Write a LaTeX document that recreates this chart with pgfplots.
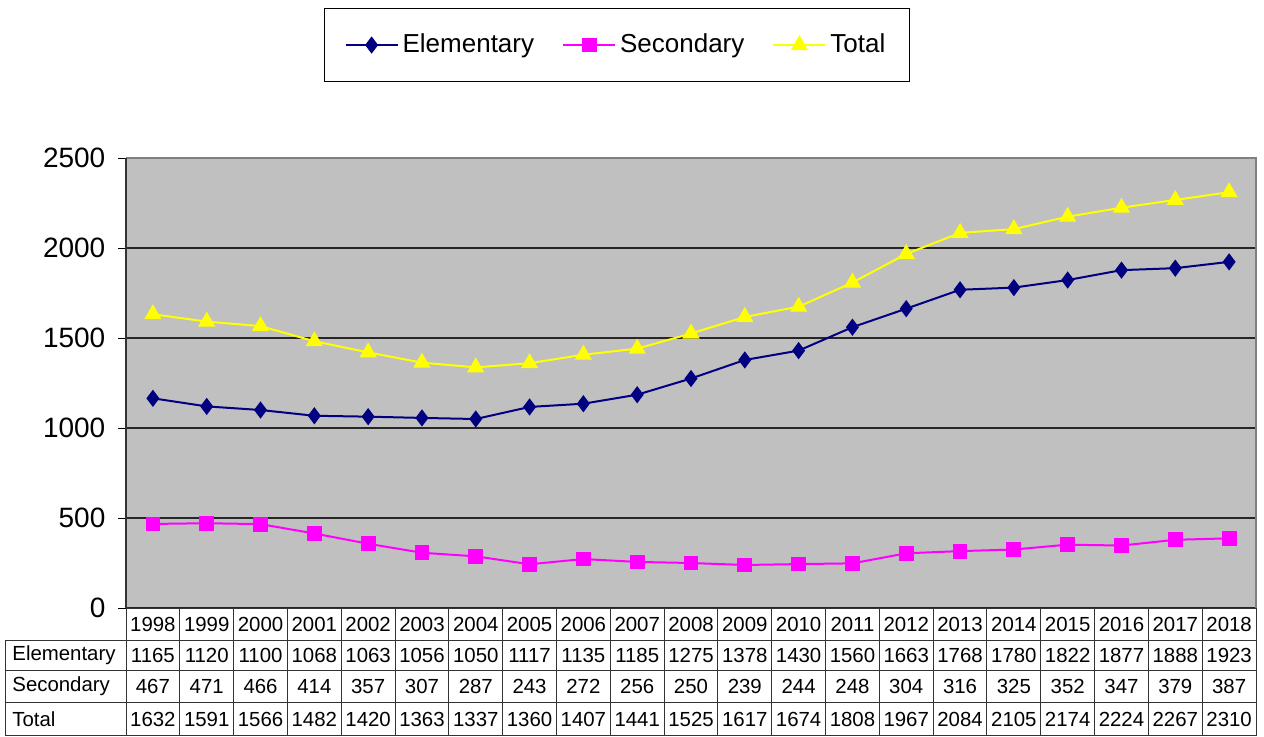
\documentclass[border=0pt]{standalone}
\usepackage{pgfplots}
\pgfplotsset{compat=1.18}
\usepackage{fontspec}
\setmainfont{Liberation Sans}
\definecolor{navy}{HTML}{000080}
\definecolor{mag}{HTML}{FF00FF}
\definecolor{yel}{HTML}{FFFF00}
\definecolor{plotbg}{HTML}{C0C0C0}
\newcommand{\tabfont}{\fontsize{10.2}{12}\selectfont}
\begin{document}
\begin{tikzpicture}[x=1pt,y=1pt]
\useasboundingbox (-63,-64) rectangle (569,304);
\begin{axis}[
  at={(0,0)}, anchor=south west,
  scale only axis, width=565pt, height=225pt,
  xmin=-0.5, xmax=20.5, ymin=0, ymax=2500,
  xtick=\empty, ytick={0,500,1000,1500,2000,2500},
  /pgf/number format/assume math mode=true,
  /pgf/number format/1000 sep={},
  ytick pos=left, tick align=outside, major tick length=4pt,
  tick style={black, line width=0.5pt},
  axis line style={draw=none},
  ymajorgrids, major grid style={black!85, line width=0.6pt},
  axis background/.style={fill=plotbg},
  tick label style={font=\fontsize{14}{16}\selectfont},
  yticklabel style={xshift=-2.8pt},
  legend style={at={(0.4345,1.251)}, anchor=center, draw=black, line width=0.5pt,
    font=\fontsize{13}{15}\selectfont, inner xsep=10pt, inner ysep=11pt,
    /tikz/every even column/.append style={column sep=12pt}},
  legend columns=3,
  legend image code/.code={\draw[mark repeat=2,mark phase=2] plot coordinates {(0pt,0pt) (13pt,0pt) (26pt,0pt)};},
]
\addplot[navy, line width=1pt, mark=diamond*, mark size=3.5pt] coordinates {
(0,1165) (1,1120) (2,1100) (3,1068) (4,1063) (5,1056) (6,1050) (7,1117) (8,1135) (9,1185) (10,1275)
(11,1378) (12,1430) (13,1560) (14,1663) (15,1768) (16,1780) (17,1822) (18,1877) (19,1888) (20,1923)};
\addlegendentry{Elementary}
\addplot[mag, line width=1pt, mark=square*, mark size=3.2pt] coordinates {
(0,467) (1,471) (2,466) (3,414) (4,357) (5,307) (6,287) (7,243) (8,272) (9,256) (10,250)
(11,239) (12,244) (13,248) (14,304) (15,316) (16,325) (17,352) (18,347) (19,379) (20,387)};
\addlegendentry{Secondary}
\addplot[yel, line width=1pt, mark=triangle*, mark size=4pt] coordinates {
(0,1632) (1,1591) (2,1566) (3,1482) (4,1420) (5,1363) (6,1337) (7,1360) (8,1407) (9,1441) (10,1525)
(11,1617) (12,1674) (13,1808) (14,1967) (15,2084) (16,2105) (17,2174) (18,2224) (19,2267) (20,2310)};
\addlegendentry{Total}
\end{axis}
% plot border
\draw[gray, line width=0.6pt] (0,225) -- (565,225) -- (565,0);
\draw[black!80, line width=0.8pt] (0,0) -- (0,225);
% data table
\begin{scope}[black!80, line width=0.5pt]
\draw (0,0) -- (565,0);
\foreach \yy in {-16,-31,-47,-63.7} \draw (-60,\yy) -- (565,\yy);
\draw (-60,-16) -- (-60,-64);
\foreach \i in {0,...,21} \draw ({\i*26.905},0) -- ({\i*26.905},-64);
\end{scope}
\foreach \v [count=\i from 0] in {1998,1999,2000,2001,2002,2003,2004,2005,2006,2007,2008,2009,2010,2011,2012,2013,2014,2015,2016,2017,2018}
  \node[font=\tabfont, inner sep=0pt] at ({(\i+0.5)*26.905},-8) {\v};
\foreach \v [count=\i from 0] in {1165,1120,1100,1068,1063,1056,1050,1117,1135,1185,1275,1378,1430,1560,1663,1768,1780,1822,1877,1888,1923}
  \node[font=\tabfont, inner sep=0pt] at ({(\i+0.5)*26.905},-23.5) {\v};
\foreach \v [count=\i from 0] in {467,471,466,414,357,307,287,243,272,256,250,239,244,248,304,316,325,352,347,379,387}
  \node[font=\tabfont, inner sep=0pt] at ({(\i+0.5)*26.905},-39) {\v};
\foreach \v [count=\i from 0] in {1632,1591,1566,1482,1420,1363,1337,1360,1407,1441,1525,1617,1674,1808,1967,2084,2105,2174,2224,2267,2310}
  \node[font=\tabfont, inner sep=0pt] at ({(\i+0.5)*26.905},-55.5) {\v};
\node[font=\tabfont, inner sep=0pt, anchor=west] at (-57,-23.5) {Elementary};
\node[font=\tabfont, inner sep=0pt, anchor=west] at (-57,-39) {Secondary};
\node[font=\tabfont, inner sep=0pt, anchor=west] at (-57,-55.5) {Total};
\end{tikzpicture}
\end{document}
